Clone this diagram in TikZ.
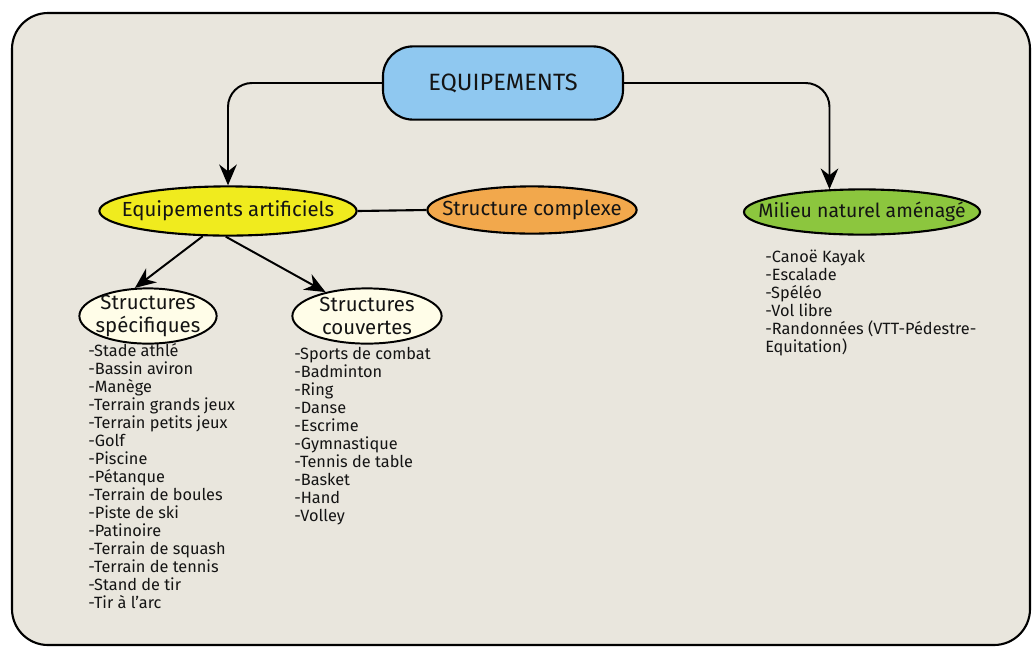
\documentclass[tikz,border=0pt]{standalone}
\usepackage{fontspec}
\setmainfont{Fira Sans}
\usepackage{xcolor}
\usetikzlibrary{shapes.geometric, arrows.meta, positioning}
\definecolor{panelbg}{HTML}{E9E6DD}
\definecolor{topblue}{HTML}{8FC8F0}
\definecolor{artyellow}{HTML}{F0EB1E}
\definecolor{cplxorange}{HTML}{F2A84C}
\definecolor{natgreen}{HTML}{8CC63E}
\definecolor{subcream}{HTML}{FFFDE8}
\definecolor{inkdark}{HTML}{141414}

\begin{document}
\begin{tikzpicture}[
    x=0.025cm, y=-0.025cm,
    every node/.style={text=inkdark},
    panel/.style={draw, line width=1.5pt, fill=panelbg, rounded corners=0.9cm},
    topbox/.style={draw, line width=1.5pt, fill=topblue, rounded corners=0.75cm, minimum width=6.0cm, minimum height=1.83cm, font=\fontsize{16.8}{19}\selectfont},
    mainnode/.style={ellipse, draw, line width=1.5pt, inner sep=0pt},
    mainlabel/.style={font=\fontsize{14.5}{17}\selectfont, text=inkdark},
    subnode/.style={ellipse, draw, line width=1.4pt, fill=subcream, inner sep=0pt, minimum height=1.38cm},
    sublabel/.style={align=center, font=\fontsize{14.5}{17}\selectfont, text=inkdark},
    sportlist/.style={anchor=north west, align=left, inner sep=0pt, font=\fontsize{11.6}{12.8}\selectfont},
    arrow/.style={-{Stealth[length=0.52cm, width=0.44cm]}, line width=1.4pt}
]
\useasboundingbox (0,0) rectangle (1032,647);
\draw[panel] (12,13) rectangle (1030,645);

\node[topbox] (equip) at (503,83) {EQUIPEMENTS};

\node[mainnode, fill=artyellow, minimum width=6.43cm, minimum height=1.23cm, label={[mainlabel]center:Equipements artificiels}] (artif) at (228,211) {};
\node[mainnode, fill=cplxorange, minimum width=5.23cm, minimum height=1.18cm, label={[mainlabel]center:Structure complexe}] (cplx) at (532,210) {};
\node[mainnode, fill=natgreen, minimum width=5.9cm, minimum height=1.13cm, label={[mainlabel, font=\fontsize{13.8}{16}\selectfont]center:Milieu naturel aménagé}] (nature) at (862,212) {};

\node[subnode, minimum width=3.43cm, label={[sublabel]center:Structures\\spécifiques}] (spec) at (148,316) {};
\node[subnode, minimum width=3.73cm, label={[sublabel]center:Structures\\couvertes}] (couv) at (367,316) {};

\draw[arrow, rounded corners=0.6cm] (equip.west) -| (artif.north);
\draw[arrow, rounded corners=0.6cm] (equip.east) -| (nature.145);
\draw[line width=1.5pt] (artif.east) -- (cplx.west);
\draw[arrow] (artif.225) -- (spec.115);
\draw[arrow] (artif.265) -- (couv.150);

\node[sportlist] (listspec) at (88,343) {-Stade athlé\\-Bassin aviron\\-Manège\\-Terrain grands jeux\\-Terrain petits jeux\\-Golf\\-Piscine\\-Pétanque\\-Terrain de boules\\-Piste de ski\\-Patinoire\\-Terrain de squash\\-Terrain de tennis\\-Stand de tir\\-Tir à l'arc};
\node[sportlist] (listcouv) at (294,347) {-Sports de combat\\-Badminton\\-Ring\\-Danse\\-Escrime\\-Gymnastique\\-Tennis de table\\-Basket\\-Hand\\-Volley};
\node[sportlist] (listnat) at (765,250) {-Canoë Kayak\\-Escalade\\-Spéléo\\-Vol libre\\-Randonnées (VTT-Pédestre-\\Equitation)};
\end{tikzpicture}
\end{document}
